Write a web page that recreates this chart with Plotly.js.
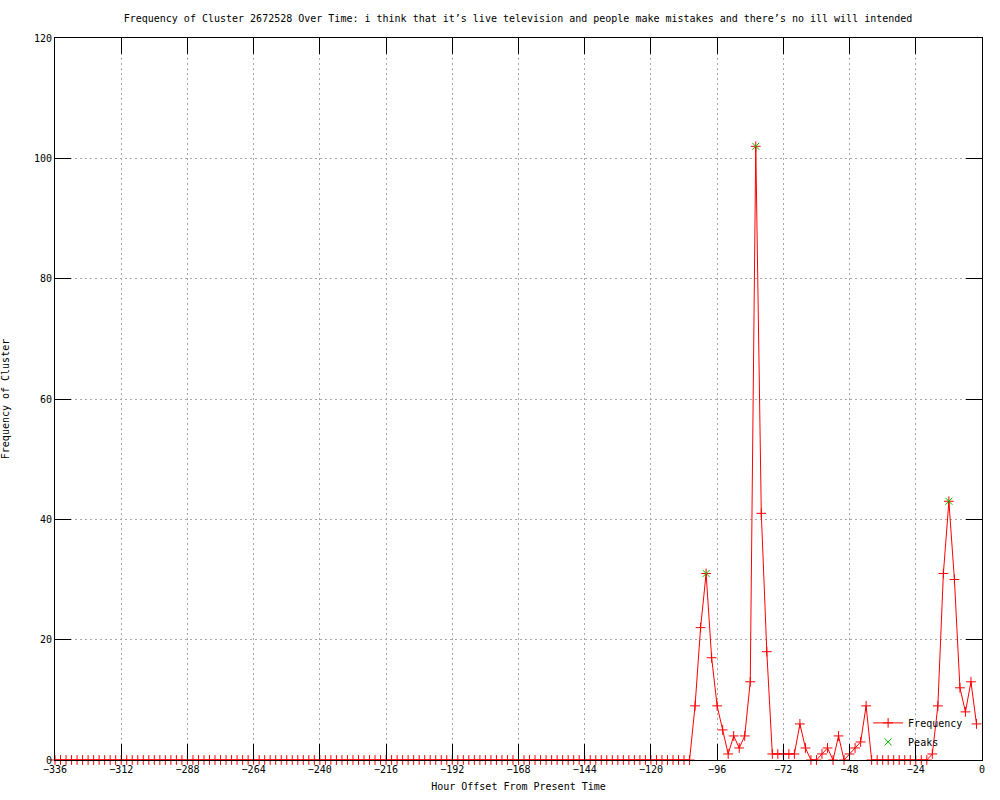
<!DOCTYPE html>
<html>
<head>
<meta charset="utf-8">
<script src="https://cdn.plot.ly/plotly-3.0.1.min.js"></script>
<style>html,body{margin:0;padding:0;background:#fff;}#chart{width:1000px;height:800px;}</style>
</head>
<body>
<div id="chart"></div>
<script>
// Hour offsets (2-hour bins)
const hours = [
-336,-334,-332,-330,-328,-326,-324,-322,-320,-318,-316,-314,-312,-310,-308,-306,-304,-302,-300,-298,
-296,-294,-292,-290,-288,-286,-284,-282,-280,-278,-276,-274,-272,-270,-268,-266,-264,-262,-260,-258,
-256,-254,-252,-250,-248,-246,-244,-242,-240,-238,-236,-234,-232,-230,-228,-226,-224,-222,-220,-218,
-216,-214,-212,-210,-208,-206,-204,-202,-200,-198,-196,-194,-192,-190,-188,-186,-184,-182,-180,-178,
-176,-174,-172,-170,-168,-166,-164,-162,-160,-158,-156,-154,-152,-150,-148,-146,-144,-142,-140,-138,
-136,-134,-132,-130,-128,-126,-124,-122,-120,-118,-116,-114,-112,-110,-108,-106,
-104,-102,-100,-98,-96,-94,-92,-90,-88,-86,-84,-82,-80,-78,-76,-74,-72,-70,-68,-66,
-64,-62,-60,-58,-56,-54,-52,-50,-48,-46,-44,-42,-40,-38,-36,-34,-32,-30,-28,-26,
-24,-22,-20,-18,-16,-14,-12,-10,-8,-6,-4,-2
];
const frequency = [
0,0,0,0,0,0,0,0,0,0,0,0,0,0,0,0,0,0,0,0,
0,0,0,0,0,0,0,0,0,0,0,0,0,0,0,0,0,0,0,0,
0,0,0,0,0,0,0,0,0,0,0,0,0,0,0,0,0,0,0,0,
0,0,0,0,0,0,0,0,0,0,0,0,0,0,0,0,0,0,0,0,
0,0,0,0,0,0,0,0,0,0,0,0,0,0,0,0,0,0,0,0,
0,0,0,0,0,0,0,0,0,0,0,0,0,0,0,0,
9,22,31,17,9,5,1,4,2,4,13,102,41,18,1,1,1,1,1,6,
2,0,0,1,2,0,4,0,1,2,3,9,0,0,0,0,0,0,0,0,
0,0,0,1,9,31,43,30,12,8,13,6
];
const peakHours = [-100, -82, -12];
const peakValues = [31, 102, 43];
const xTicks = [-336,-312,-288,-264,-240,-216,-192,-168,-144,-120,-96,-72,-48,-24,0];
const yTicks = [0,20,40,60,80,100,120];

const FONT = {family: "DejaVu Sans Mono, monospace", size: 10, color: "#000"};

const traces = [
  {
    x: hours, y: frequency, type: "scatter", mode: "lines+markers", name: "Frequency",
    line: {color: "#ff0000", width: 1},
    marker: {symbol: "cross-thin-open", size: 7, line: {color: "#ff0000", width: 1}},
    cliponaxis: false
  },
  {
    x: peakHours, y: peakValues, type: "scatter", mode: "markers", name: "Peaks",
    marker: {symbol: "x-thin-open", size: 7, line: {color: "#00c000", width: 1}, color: "#00c000"},
    cliponaxis: false
  }
];

const axisCommon = {
  showline: true, linecolor: "#000", linewidth: 1, mirror: "allticks",
  ticks: "inside", ticklen: 16, tickcolor: "#000", tickwidth: 1,
  showgrid: true, gridcolor: "#a8a8a8", griddash: "2px,3px", gridwidth: 1,
  zeroline: false, tickfont: FONT, automargin: false
};

const layout = {
  width: 1000, height: 800,
  paper_bgcolor: "#fff", plot_bgcolor: "#fff",
  margin: {l: 55, r: 18, t: 38, b: 40},
  font: FONT,
  title: {text: "Frequency of Cluster 2672528 Over Time: i think that it’s live television and people make mistakes and there’s no ill will intended",
          font: FONT, x: 0.518, xanchor: "center", y: 0.977, yanchor: "middle"},
  xaxis: Object.assign({}, axisCommon, {
    range: [-336, 0], tickmode: "array", tickvals: xTicks,
    title: {text: "Hour Offset From Present Time", font: FONT, standoff: 8}
  }),
  yaxis: Object.assign({}, axisCommon, {
    range: [0, 120], tickmode: "array", tickvals: yTicks,
    title: {text: "Frequency of Cluster", font: FONT, standoff: 22}
  }),
  showlegend: true,
  legend: {x: 0.985, xanchor: "right", y: 0.005, yanchor: "bottom",
           bgcolor: "rgba(0,0,0,0)", font: FONT, tracegroupgap: 0, itemwidth: 30}
};

Plotly.newPlot("chart", traces, layout, {staticPlot: true, displayModeBar: false});
</script>
</body>
</html>
